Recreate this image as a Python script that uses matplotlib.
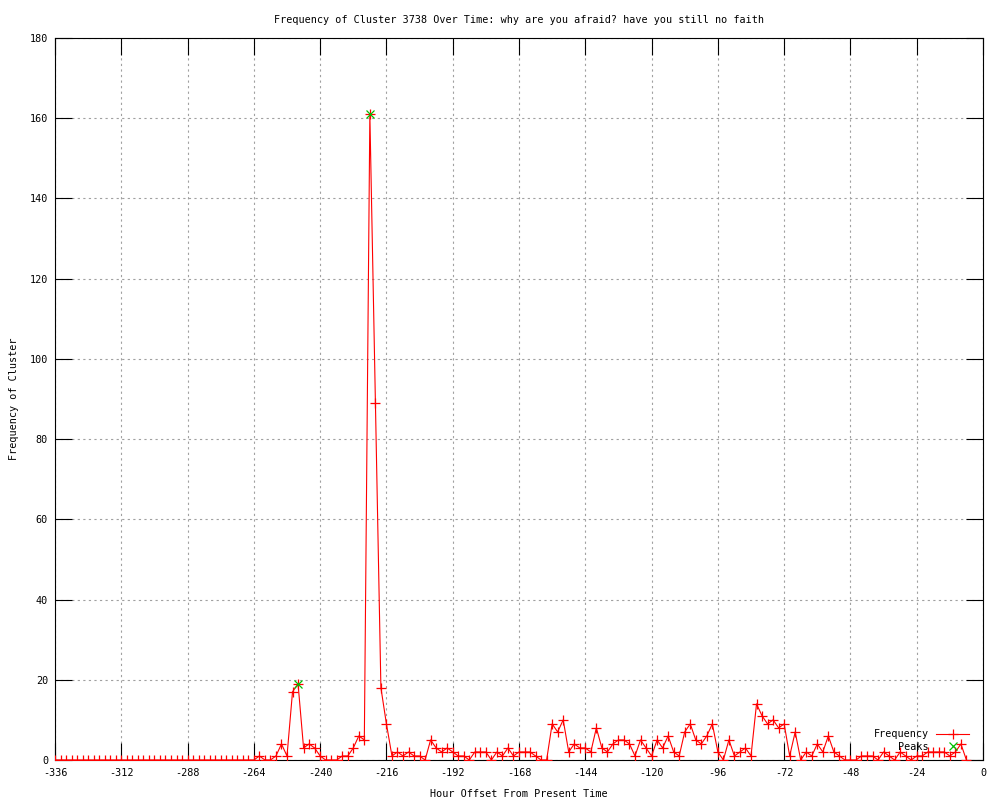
import matplotlib
matplotlib.use("Agg")
import matplotlib.pyplot as plt
from matplotlib.lines import Line2D

# ---- data ----
hours = list(range(-336, -4, 2))  # 166 sample times (hours offset)
frequency = (
    [0] * 37 +
    [1, 0, 0, 1, 4, 1, 17, 19, 3, 4, 3, 1, 0, 0, 0, 1, 1, 3, 6, 5,
     161, 89, 18, 9, 1, 2, 1, 2, 1, 1, 0, 5, 3, 2, 3, 2, 1, 1, 0, 2,
     2, 2, 0, 2, 1, 3, 1, 2, 2, 2, 1, 0, 0, 9, 7, 10, 2, 4, 3, 3,
     2, 8, 3, 2, 4, 5, 5, 4, 1, 5, 3, 1, 5, 3, 6, 2, 1, 7, 9, 5,
     4, 6, 9, 2, 0, 5, 1, 2, 3, 1, 14, 11, 9, 10, 8, 9, 1, 7, 0, 2,
     1, 4, 2, 6, 2, 1, 0, 0, 0, 1, 1, 1, 0, 2, 1, 0, 2, 1, 0, 1,
     1, 2, 2, 2, 2, 1, 2, 4, 0]
)
peak_hours = [-248, -222]
peak_values = [19, 161]

title = "Frequency of Cluster 3738 Over Time: why are you afraid? have you still no faith"
xlabel = "Hour Offset From Present Time"
ylabel = "Frequency of Cluster"
xticks = list(range(-336, 1, 24))
yticks = list(range(0, 181, 20))

# ---- style ----
plt.rcParams['font.family'] = ['DejaVu Sans Mono']
FS = 7.3
RED = "#ff0000"
GREEN = "#00c000"

fig = plt.figure(figsize=(10, 8), dpi=100)
ax = fig.add_axes([0.055, 0.05, 0.928, 0.9025])

ax.plot(hours, frequency, color=RED, lw=0.8, marker='+', ms=7, mew=0.9,
        label='Frequency', zorder=3)
ax.plot(peak_hours, peak_values, color=GREEN, lw=0, marker='x', ms=6, mew=0.9,
        label='Peaks', zorder=4)

ax.set_xlim(-336, 0)
ax.set_ylim(0, 180)
ax.set_xticks(xticks)
ax.set_yticks(yticks)
ax.set_xticklabels([str(t) for t in xticks], fontsize=FS)
ax.set_yticklabels([str(t) for t in yticks], fontsize=FS)
ax.tick_params(direction='in', length=12, width=0.8, top=True, right=True,
               labeltop=False, labelright=False)
ax.tick_params(axis='x', pad=6)
ax.tick_params(axis='y', pad=5)
ax.grid(True, color='#a0a0a0', linestyle=(0, (2, 3)), lw=0.8)
for s in ax.spines.values():
    s.set_linewidth(0.8)

ax.set_title(title, fontsize=FS, pad=11)
ax.set_xlabel(xlabel, fontsize=FS, labelpad=8)
ax.set_ylabel(ylabel, fontsize=FS, labelpad=8)

handles = [Line2D([], [], color=RED, lw=0.8, marker='+', ms=7, mew=0.9),
           Line2D([], [], color=GREEN, lw=0, marker='x', ms=6, mew=0.9)]
leg = ax.legend(handles, ['Frequency', 'Peaks'], loc='lower right',
                bbox_to_anchor=(0.995, -0.001), markerfirst=False, frameon=False,
                fontsize=FS, handlelength=3.3, handletextpad=0.7,
                labelspacing=0.25, numpoints=1)

fig.savefig("out.png", dpi=100)
